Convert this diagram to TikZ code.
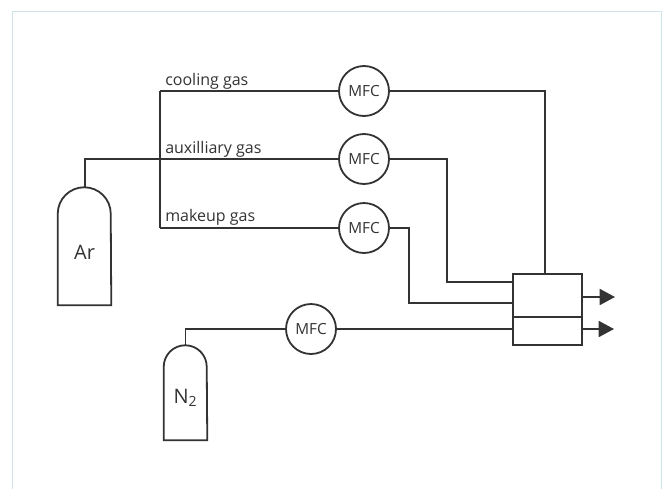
\documentclass[tikz,border=0pt]{standalone}
\usepackage{fontspec}
\setmainfont{Open Sans}
\usetikzlibrary{arrows.meta}
\definecolor{ink}{HTML}{333333}
\definecolor{frame}{HTML}{CFE4E8}
\tikzset{
  x=0.75pt,y=-0.75pt,
  pipe/.style={draw=ink,line width=1.35pt,line join=miter},
  flow/.style={pipe,-{Triangle[length=11.5pt,width=12pt]}},
  mfc/.style={circle,draw=ink,line width=1.35pt,fill=white,minimum size=37.5pt,inner sep=0pt,font=\fontsize{11.5}{13}\selectfont,text=ink},
  tank/.style={inner sep=0pt,font=\fontsize{15}{17}\selectfont,text=ink},
  gaslabel/.style={anchor=base west,inner sep=0pt,font=\fontsize{12}{14}\selectfont,text=ink},
  unit/.style={rectangle,draw=ink,line width=1.35pt,fill=white,inner sep=0pt}
}
\begin{document}
\begin{tikzpicture}
\useasboundingbox (0,0) rectangle (666,489);
\draw[frame,line width=0.75pt] (12.5,489) -- (12.5,11.5) -- (661,11.5) -- (661,489);
% coordinates
\coordinate (arTop) at (85,187);
\coordinate (split) at (160,159);
\coordinate (coolStart) at (160,91);
\coordinate (makeStart) at (160,228);
\coordinate (n2Top) at (185.5,345);
\coordinate (out1) at (615,297);
\coordinate (out2) at (614,329);
% MFCs
\node[mfc] (m1) at (364,91) {MFC};
\node[mfc] (m2) at (364,159) {MFC};
\node[mfc] (m3) at (364,228) {MFC};
\node[mfc] (m4) at (311,329) {MFC};
% mixing box
\node[unit,minimum width=51.75pt,minimum height=32.25pt] (b1) at (547.5,295.5) {};
\node[unit,minimum width=51.75pt,minimum height=21pt] (b2) at (547.5,331) {};
% pipes
\draw[pipe] (arTop) |- (m2.west);
\draw[pipe] (coolStart) -- (makeStart);
\draw[pipe] (coolStart) -- (m1.west);
\draw[pipe] (makeStart) -- (m3.west);
\draw[pipe] (n2Top) |- (m4.west);
\draw[pipe] (m1.east) -| (b1.north -| 545,0);
\draw[pipe] (m2.east) -| (447,282) -- (b1.west |- 0,282);
\draw[pipe] (m3.east) -| (409,303) -- (b1.west |- 0,303);
\draw[pipe] (m4.east) -- (b2.west |- m4);
\draw[flow] (b1.east |- out1) -- (out1);
\draw[flow] (b2.east |- out2) -- (out2);
% labels
\node[gaslabel] (l1) at (165,85) {cooling gas};
\node[gaslabel] (l2) at (165,153) {auxilliary gas};
\node[gaslabel] (l3) at (165,221) {makeup gas};
% tanks
\node[tank,minimum width=39.75pt,minimum height=88.5pt] (ar) at (84.5,246) {};
\node[tank] at (84.5,252) {Ar};
\draw[pipe] (ar.south west) -- ++(0,-91.5) arc[start angle=180,end angle=360,radius=26.5] -- (ar.south east) -- cycle;
\node[tank,minimum width=32.25pt,minimum height=71.25pt] (n2) at (185.5,392.5) {};
\node[tank] at (185.5,398) {N\textsubscript{2}};
\draw[pipe] (n2.south west) -- ++(0,-73.5) arc[start angle=180,end angle=360,radius=21.5] -- (n2.south east) -- cycle;
\end{tikzpicture}
\end{document}
